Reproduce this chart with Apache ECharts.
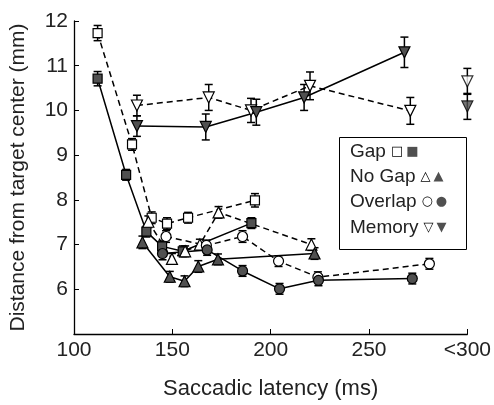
<!DOCTYPE html>
<html>
<head>
<meta charset="utf-8">
<script src="https://cdn.jsdelivr.net/npm/echarts@6/dist/echarts.min.js"></script>
<style>
  html, body { margin: 0; background: #fff; }
  #main { width: 494px; height: 405px; }
</style>
</head>
<body>
<div id="main"></div>
<script>
// x ticks (300 is shown as "<300")
var xTicks = [100, 150, 200, 250, 300];

// Gap
var gapOpenX = [112, 129.5, 139.5, 147.3, 158, 192];
var gapOpenY = [11.73, 9.24, 7.6, 7.47, 7.6, 7.99];
var gapOpenE = [0.17, 0.13, 0.13, 0.13, 0.12, 0.15];
var gapFillX = [112, 126.5, 136.8, 144.8, 155.3, 190.2];
var gapFillY = [10.71, 8.56, 7.29, 6.96, 6.85, 7.48];
var gapFillE = [0.16, 0.12, 0.12, 0.12, 0.12, 0.12];

// No Gap
var noGapOpenX = [137.8, 149.8, 156.5, 164, 173.5, 220.7];
var noGapOpenY = [7.51, 6.68, 6.85, 7.0, 7.72, 7.0];
var noGapOpenE = [0.13, 0.12, 0.12, 0.12, 0.13, 0.13];
var noGapFillX = [134.8, 148.7, 156.2, 163.2, 173.2, 222.3];
var noGapFillY = [7.05, 6.28, 6.18, 6.51, 6.67, 6.8];
var noGapFillE = [0.14, 0.12, 0.12, 0.13, 0.12, 0.13];

// Overlap
var overOpenX = [146.8, 167.3, 185.7, 204, 224, 280.7];
var overOpenY = [7.18, 6.98, 7.18, 6.63, 6.27, 6.57];
var overOpenE = [0.13, 0.12, 0.13, 0.12, 0.12, 0.12];
var overFillX = [145, 167.7, 185.7, 204.5, 224.3, 272];
var overFillY = [6.8, 6.88, 6.41, 6.01, 6.2, 6.24];
var overFillE = [0.14, 0.12, 0.12, 0.12, 0.12, 0.12];

// Memory (the "<300" bin is kept apart)
var memOpenX = [132, 168.5, 190, 220, 271];
var memOpenY = [10.11, 10.29, 10.0, 10.55, 9.99];
var memOpenE = [0.23, 0.29, 0.27, 0.31, 0.3];
var memFillX = [132, 167, 192.7, 217, 268];
var memFillY = [9.65, 9.63, 9.96, 10.29, 11.3];
var memFillE = [0.23, 0.29, 0.29, 0.29, 0.34];
var memCutX = 300;
var memCutOpen = [10.65, 0.29];
var memCutFill = [10.09, 0.29];

var FILL = '#505050';
var FONT = 'Liberation Sans, Arial, sans-serif';

function pairs(xs, ys) {
  return xs.map(function (x, i) { return [x, ys[i]]; });
}
function triples(xs, ys, es) {
  return xs.map(function (x, i) { return [x, ys[i], es[i]]; });
}

function errItem(params, api) {
  var x = api.value(0), y = api.value(1), e = api.value(2);
  var hi = api.coord([x, y + e]);
  var lo = api.coord([x, y - e]);
  var w = 4;
  var st = { stroke: '#000', lineWidth: 1.5 };
  return {
    type: 'group',
    children: [
      { type: 'line', shape: { x1: hi[0], y1: hi[1], x2: lo[0], y2: lo[1] }, style: st },
      { type: 'line', shape: { x1: hi[0] - w, y1: hi[1], x2: hi[0] + w, y2: hi[1] }, style: st },
      { type: 'line', shape: { x1: lo[0] - w, y1: lo[1], x2: lo[0] + w, y2: lo[1] }, style: st }
    ]
  };
}

function errSeries(data) {
  return { type: 'custom', renderItem: errItem, data: data, z: 1, silent: true };
}

function lineSeries(data, symbol, filled, dashed, size, rotate) {
  return {
    type: 'line',
    data: data,
    symbol: symbol,
    symbolSize: size,
    symbolRotate: rotate || 0,
    showAllSymbol: true,
    z: 3,
    lineStyle: { color: '#000', width: 1.5, type: dashed ? [6, 4] : 'solid' },
    itemStyle: { color: filled ? FILL : '#fff', borderColor: '#000', borderWidth: 1.2 },
    emphasis: { disabled: true }
  };
}

var chart = echarts.init(document.getElementById('main'));

var series = [
  errSeries(triples(gapOpenX, gapOpenY, gapOpenE)),
  errSeries(triples(gapFillX, gapFillY, gapFillE)),
  errSeries(triples(noGapOpenX, noGapOpenY, noGapOpenE)),
  errSeries(triples(noGapFillX, noGapFillY, noGapFillE)),
  errSeries(triples(overOpenX, overOpenY, overOpenE)),
  errSeries(triples(overFillX, overFillY, overFillE)),
  errSeries(triples(memOpenX, memOpenY, memOpenE)),
  errSeries(triples(memFillX, memFillY, memFillE)),
  errSeries([[memCutX, memCutOpen[0], memCutOpen[1]], [memCutX, memCutFill[0], memCutFill[1]]]),

  lineSeries(pairs(gapOpenX, gapOpenY), 'rect', false, true, 9),
  lineSeries(pairs(gapFillX, gapFillY), 'rect', true, false, 9),
  lineSeries(pairs(noGapOpenX, noGapOpenY), 'triangle', false, true, 11),
  lineSeries(pairs(noGapFillX, noGapFillY), 'triangle', true, false, 11),
  lineSeries(pairs(overOpenX, overOpenY), 'circle', false, true, 10),
  lineSeries(pairs(overFillX, overFillY), 'circle', true, false, 10),
  lineSeries(pairs(memOpenX, memOpenY), 'triangle', false, true, 11, 180),
  lineSeries(pairs(memFillX, memFillY), 'triangle', true, false, 11, 180),
  {
    type: 'scatter', z: 3, symbol: 'triangle', symbolRotate: 180, symbolSize: 11,
    data: [[memCutX, memCutOpen[0]]],
    itemStyle: { color: '#fff', borderColor: '#000', borderWidth: 1.2 }
  },
  {
    type: 'scatter', z: 3, symbol: 'triangle', symbolRotate: 180, symbolSize: 11,
    data: [[memCutX, memCutFill[0]]],
    itemStyle: { color: FILL, borderColor: '#000', borderWidth: 1.2 }
  }
];

var legendRows = [
  ['Gap', '□', '■'],
  ['No Gap', '△', '▲'],
  ['Overlap', '○', '●'],
  ['Memory', '▽', '▼']
];

chart.setOption({
  animation: false,
  backgroundColor: '#fff',
  textStyle: { fontFamily: FONT },
  grid: { left: 72, right: 26, top: 21, bottom: 67 },
  xAxis: {
    type: 'value',
    min: xTicks[0],
    max: xTicks[xTicks.length - 1],
    interval: 50,
    name: 'Saccadic latency (ms)',
    nameLocation: 'middle',
    nameGap: 44,
    nameTextStyle: { fontSize: 22, color: '#222', fontFamily: FONT },
    axisLine: { lineStyle: { color: '#000', width: 1.3 } },
    axisTick: { inside: true, length: 5, lineStyle: { color: '#000' } },
    axisLabel: {
      fontSize: 21, color: '#222', fontFamily: FONT, margin: 6,
      formatter: function (v) { return v === 300 ? '<300' : String(v); }
    },
    splitLine: { show: false }
  },
  yAxis: {
    type: 'value',
    min: 5,
    max: 12,
    interval: 1,
    name: 'Distance from target center (mm)',
    nameLocation: 'middle',
    nameGap: 45,
    nameTextStyle: { fontSize: 21, color: '#222', fontFamily: FONT },
    axisLine: { show: true, lineStyle: { color: '#000', width: 1.3 } },
    axisTick: { show: true, inside: true, length: 5, lineStyle: { color: '#000' } },
    axisLabel: {
      fontSize: 21, color: '#222', fontFamily: FONT, margin: 6,
      formatter: function (v) { return v === 5 ? '' : String(v); }
    },
    splitLine: { show: false }
  },
  graphic: [
    {
      type: 'rect', left: 339, top: 137, z: 10,
      shape: { width: 127, height: 112 },
      style: { fill: '#fff', stroke: '#000', lineWidth: 1 }
    },
    // axis break marker on the x axis
    {
      type: 'line', z: 10,
      shape: { x1: 440, y1: 338, x2: 451, y2: 338 },
      style: { stroke: '#fff', lineWidth: 2, lineDash: [1, 1] }
    }
  ].concat(legendRows.map(function (r, i) {
    return {
      type: 'text', left: 350, top: 142 + i * 25.3, z: 11,
      style: {
        text: '{t|' + r[0] + '}{o|' + r[1] + '}{f|' + r[2] + '}',
        rich: {
          t: { fontSize: 19, fill: '#222', fontFamily: FONT, padding: [0, 5, 0, 0] },
          o: { fontSize: 13, fill: '#000', fontFamily: 'DejaVu Sans', padding: [0, 3, 0, 0] },
          f: { fontSize: 13, fill: FILL, fontFamily: 'DejaVu Sans' }
        }
      }
    };
  })),
  series: series
});
</script>
</body>
</html>
